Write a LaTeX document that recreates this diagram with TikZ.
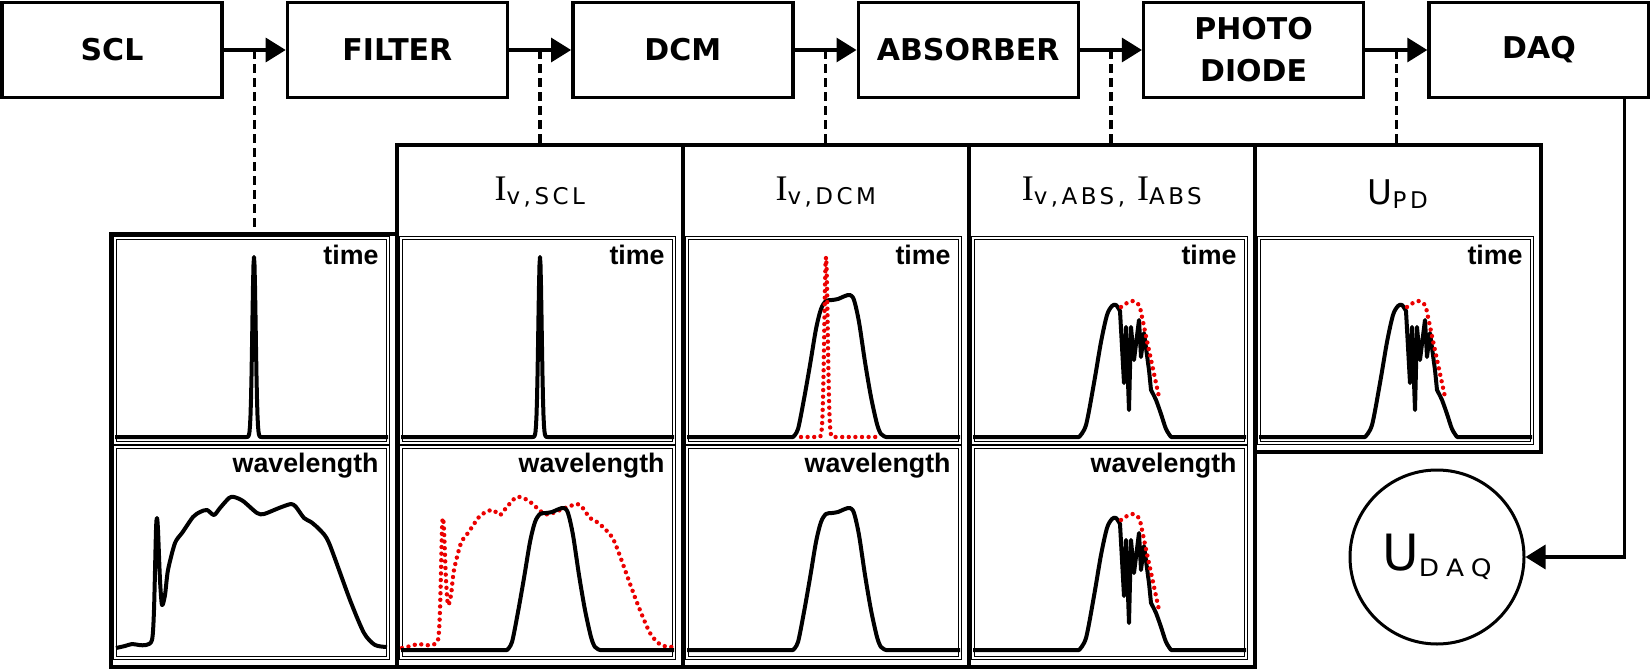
\documentclass[tikz,border=0pt]{standalone}
\usepackage{fontspec}
\usetikzlibrary{arrows.meta, calc, positioning}
\newfontfamily\stagefont{DejaVu Sans}
\newfontfamily\axisfont{Liberation Sans}
\newfontfamily\symfont{DejaVu Sans}
\newfontfamily\Ifont{Liberation Serif}
\newfontfamily\subfont{DejaVu Sans}[LetterSpace=15]
\newfontfamily\widesubfont{DejaVu Sans}[LetterSpace=30, FakeStretch=1.1]
\definecolor{curvered}{RGB}{235,0,0}

\newcommand{\mainsym}[1]{{\Ifont\fontsize{18}{18}\selectfont #1}}
\newcommand{\subsym}[1]{\raisebox{-2pt}{\subfont\fontsize{11.5}{11.5}\selectfont #1}}

% curves: origin at plot left edge on the baseline, heights upward
\newcommand{\pulseshape}[3]{%
    \draw[#1] (#2,0) -- (127,0) -- plot[domain=127:151, samples=49]
        (\x, {180*exp(-((\x-139)/2.4)^2)}) -- (#3,0);}
\newcommand{\sclshape}[1]{%
    \draw[#1] plot[smooth, tension=0.45] coordinates {
        (1,2) (10,4) (17,6) (24,5) (31,5) (37,10) (39,40) (41,120) (42,132)
        (43,120) (45,70) (47,45) (50,55) (53,80) (60,107) (67,117) (78,133)
        (85,138) (92,140) (99,135) (105,142) (114,152) (119,153) (128,149)
        (142,137) (149,136) (164,142) (176,146) (181,143) (189,132) (196,128)
        (205,120) (214,107) (235,50) (249,17) (260,5) (272,3)};}
\newcommand{\bandshape}[1]{%
    \draw[#1] (0,0) -- (106,0) -- plot[smooth, tension=0.5] coordinates {
        (106,0) (111,8) (117,38) (123,72) (129,108) (134,128) (139,136)
        (145,137) (151,138) (158,141) (163,142) (167,137) (172,115) (178,75)
        (184,40) (190,13) (194,3) (199,0)} -- (273,0);}
\newcommand{\ringshape}[1]{%
    \draw[#1] (0,0) -- (106,0) -- plot[smooth, tension=0.5] coordinates {
        (106,0) (113,12) (121,54) (128,95) (134,122) (139,131) (143,132) (147,126)}
        -- (151,54) -- (153,110) -- (156,27) -- (158,110) -- (161,77)
        -- (166,117) -- (168,80) -- (171,104) -- (176,67) -- (178,47)
        -- plot[smooth, tension=0.5] coordinates {(178,47) (183,37) (188,23) (193,8) (198,0)}
        -- (273,0);}
\newcommand{\ringenvelope}[1]{%
    \draw[#1] plot[smooth, tension=0.5] coordinates {
        (148,130) (154,134) (160,136) (166,132) (169,120) (174,96) (180,68) (186,40)};}

\begin{document}
\begin{tikzpicture}[
        x=0.5pt, y=-0.5pt,
        stage/.style={
            draw,
            rectangle,
            line width=1.7pt,
            minimum width=110pt,
            minimum height=47.5pt,
            inner sep=0pt,
            align=center,
            font=\stagefont\bfseries\fontsize{15}{21}\selectfont,
        },
        panel/.style={
            draw,
            rectangle,
            line width=1.8pt,
            minimum width=143pt,
            inner sep=0pt,
            anchor=north west,
        },
        plotframe/.style={
            double,
            double distance=0.8pt,
            line width=0.45pt,
        },
        axislabel/.style={
            anchor=north east,
            inner sep=0pt,
            font=\axisfont\bfseries\fontsize{13.4}{14}\selectfont,
        },
        header/.style={
            anchor=base,
            inner sep=0pt,
        },
        flow/.style={
            line width=1.6pt,
            -{Triangle[length=10pt, width=12pt]},
        },
        tap/.style={
            line width=1.7pt,
            dash pattern=on 4.5pt off 2.5pt,
        },
        curve/.style={
            line width=2pt,
            line join=round,
        },
        reddots/.style={
            curvered,
            line width=2.2pt,
            line cap=round,
            dash pattern=on 0pt off 3.3pt,
        },
        node distance=31pt,
    ]

    \useasboundingbox (0,0) rectangle (1650,669);

    % signal chain
    \node[stage] (scl) at (112,50) {SCL};
    \node[stage, right=of scl] (filter) {FILTER};
    \node[stage, right=of filter] (dcm) {DCM};
    \node[stage, right=of dcm] (absorber) {ABSORBER};
    \node[stage, right=of absorber] (diode) {PHOTO\\DIODE};
    \node[stage, right=of diode] (daq) {DAQ};

    \draw[flow] (scl) -- (filter);
    \draw[flow] (filter) -- (dcm);
    \draw[flow] (dcm) -- (absorber);
    \draw[flow] (absorber) -- (diode);
    \draw[flow] (diode) -- (daq);

    % panels
    \node[panel, minimum height=216.5pt, line width=2.1pt] (p1) at (109,232) {};
    \node[panel, minimum height=261pt] (p2) at (395,143) {};
    \node[panel, minimum height=261pt] (p3) at (681,143) {};
    \node[panel, minimum height=261pt] (p4) at (967,143) {};
    \node[panel, minimum height=153.5pt] (p5) at (1253,143) {};

    \coordinate (m1) at ($(scl.east)!0.5!(filter.west)$);
    \coordinate (m2) at ($(filter.east)!0.5!(dcm.west)$);
    \coordinate (m3) at ($(dcm.east)!0.5!(absorber.west)$);
    \coordinate (m4) at ($(absorber.east)!0.5!(diode.west)$);
    \coordinate (m5) at ($(diode.east)!0.5!(daq.west)$);
    \draw[tap] (m1) -- (m1 |- p1.north);
    \draw[tap] (m2) -- (m2 |- p2.north);
    \draw[tap] (m3) -- (m3 |- p3.north);
    \draw[tap] (m4) -- (m4 |- p4.north);
    \draw[tap] (m5) -- (m5 |- p5.north);

    \node[header] (h2) at ($(p2.north)+(0,57)$) {\mainsym{I}\subsym{v,SCL}};
    \node[header] (h3) at ($(p3.north)+(0,57)$) {\mainsym{I}\subsym{v,DCM}};
    \node[header] (h4) at ($(p4.north)+(0,57)$) {\mainsym{I}\subsym{v,ABS,}\hspace{6pt}\mainsym{I}\subsym{ABS}};
    \node[header] (h5) at ($(p5.north)+(0,61)$) {{\symfont\fontsize{17}{17}\selectfont U}\subsym{PD}};

    % plot frames
    \draw[plotframe] (115,238) rectangle (388,443);
    \draw[plotframe] (115,447) rectangle (388,658);
    \draw[plotframe] (401,238) rectangle (674,443);
    \draw[plotframe] (401,447) rectangle (674,658);
    \draw[plotframe] (687,238) rectangle (960,443);
    \draw[plotframe] (687,447) rectangle (960,658);
    \draw[plotframe] (973,238) rectangle (1246,443);
    \draw[plotframe] (973,447) rectangle (1246,658);
    \draw[plotframe] (1259,238) rectangle (1532,443);

    \node[axislabel] (t1) at (379,245) {time};
    \node[axislabel] (w1) at (379,453) {wavelength};
    \node[axislabel] (t2) at (665,245) {time};
    \node[axislabel] (w2) at (665,453) {wavelength};
    \node[axislabel] (t3) at (951,245) {time};
    \node[axislabel] (w3) at (951,453) {wavelength};
    \node[axislabel] (t4) at (1237,245) {time};
    \node[axislabel] (w4) at (1237,453) {wavelength};
    \node[axislabel] (t5) at (1523,245) {time};

    % curves
    \begin{scope}[shift={(115,437)}, yscale=-1]
        \pulseshape{curve}{0}{273}
    \end{scope}
    \begin{scope}[shift={(115,650)}, yscale=-1]
        \sclshape{curve}
    \end{scope}

    \begin{scope}[shift={(401,437)}, yscale=-1]
        \pulseshape{curve}{0}{273}
    \end{scope}
    \begin{scope}[shift={(401,650)}, yscale=-1]
        \sclshape{reddots}
        \bandshape{curve}
    \end{scope}

    \begin{scope}[shift={(687,437)}, yscale=-1]
        \bandshape{curve}
        \pulseshape{reddots}{114}{190}
    \end{scope}
    \begin{scope}[shift={(687,650)}, yscale=-1]
        \bandshape{curve}
    \end{scope}

    \begin{scope}[shift={(973,437)}, yscale=-1]
        \ringshape{curve}
        \ringenvelope{reddots}
    \end{scope}
    \begin{scope}[shift={(973,650)}, yscale=-1]
        \ringshape{curve}
        \ringenvelope{reddots}
    \end{scope}

    \begin{scope}[shift={(1259,437)}, yscale=-1]
        \ringshape{curve}
        \ringenvelope{reddots}
    \end{scope}

    % acquisition
    \node[draw, circle, line width=1.5pt, minimum size=87pt, inner sep=0pt] (udaq) at (1437,557)
        {{\symfont\fontsize{25}{25}\selectfont U}\raisebox{-3pt}{\widesubfont\fontsize{12}{12}\selectfont DAQ}};
    \coordinate (dq) at ($(daq.south east)+(-26,0)$);
    \draw[flow] (dq) |- (udaq);
\end{tikzpicture}
\end{document}
